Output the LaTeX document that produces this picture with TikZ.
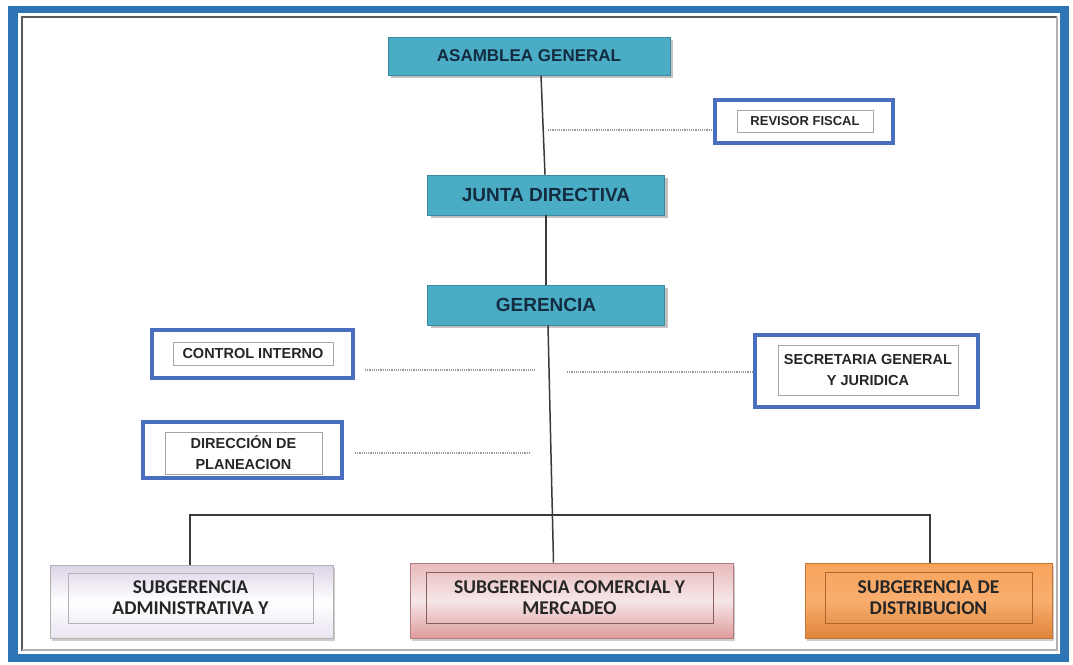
\documentclass[tikz,border=0pt]{standalone}
\usepackage{fontspec}
\setmainfont{Liberation Sans}
\newfontfamily\calib{Carlito}
\usetikzlibrary{shadows}
\definecolor{frameblue}{HTML}{2E75B6}
\definecolor{teal}{HTML}{4BACC6}
\definecolor{tealtext}{HTML}{132C40}
\definecolor{boxblue}{HTML}{4A6FC0}
\definecolor{conn}{HTML}{3A3A3A}
\definecolor{lav}{HTML}{DDD3E6}
\definecolor{pinkb}{HTML}{DE9C9E}
\definecolor{orangeb}{HTML}{F7933F}
\tikzset{
  tealbox/.style={fill=teal, draw=teal!80!black, line width=0.6pt,
    drop shadow={shadow xshift=3pt, shadow yshift=-3pt, fill=gray!60, opacity=0.8},
    text=tealtext, font=\bfseries, inner sep=0pt},
  bluebox/.style={draw=boxblue, line width=4pt, fill=white, inner sep=0pt},
  innerbox/.style={draw=gray!70, line width=0.7pt, fill=white, inner sep=0pt,
    align=center, font=\bfseries, text=black!85},
  subbox/.style={line width=0.8pt, inner sep=0pt,
    drop shadow={shadow xshift=2pt, shadow yshift=-3pt, fill=gray!55, opacity=0.7}},
  subinner/.style={draw=gray!60, line width=0.6pt, inner sep=0pt, align=center,
    font=\calib\fontsize{19.5}{21}\selectfont\bfseries, text=black!85},
  solidconn/.style={draw=conn, line width=1.5pt},
  dotconn/.style={draw=gray!80, line width=1.2pt, densely dotted}
}
\begin{document}
\begin{tikzpicture}[x=1pt,y=-1pt]
\useasboundingbox (0,0) rectangle (1073,664);
% frame
\fill[white] (0,0) rectangle (1073,664);
\fill[frameblue] (8,6) rectangle (1069,662);
\fill[white] (18,13) rectangle (1060,654);
\fill[white] (21,16) rectangle (1057,651);
\draw[gray!70!black, line width=2pt] (22,651) -- (22,17) -- (1057,17);
\draw[gray!60, line width=1.5pt] (22,650) -- (1057,650) -- (1057,17);

% upper teal nodes
\node[tealbox, minimum width=282pt, minimum height=38pt, font=\fontsize{17}{20}\selectfont\bfseries] (asamblea) at (529,56) {ASAMBLEA GENERAL};
\node[tealbox, minimum width=237pt, minimum height=40pt, font=\fontsize{19}{22}\selectfont\bfseries] (junta) at (546,195) {JUNTA DIRECTIVA};
\node[tealbox, minimum width=237pt, minimum height=40pt, font=\fontsize{19}{22}\selectfont\bfseries] (gerencia) at (546,305) {GERENCIA};

% blue boxes
\node[bluebox, minimum width=178pt, minimum height=43pt] (revisor) at (804,121.5) {};
\node[innerbox, minimum width=136pt, minimum height=22pt, font=\fontsize{13}{15}\selectfont\bfseries] (revisorT) at (805,121) {REVISOR FISCAL};

\node[bluebox, minimum width=201pt, minimum height=48pt] (control) at (252.5,354) {};
\node[innerbox, minimum width=160pt, minimum height=23pt, font=\fontsize{14.5}{17}\selectfont\bfseries] (controlT) at (253,353.5) {CONTROL INTERNO};

\node[bluebox, minimum width=199pt, minimum height=56pt] (direccion) at (242.5,450) {};
\node[innerbox, minimum width=157pt, minimum height=42pt, font=\fontsize{14.5}{21}\selectfont\bfseries] (direccionT) at (243.5,453) {DIRECCIÓN DE\\PLANEACION};

\node[bluebox, minimum width=223pt, minimum height=72pt] (secretaria) at (866.5,371) {};
\node[innerbox, minimum width=180pt, minimum height=50pt, font=\fontsize{14.5}{21}\selectfont\bfseries] (secretariaT) at (868,370) {SECRETARIA GENERAL\\Y JURIDICA};

% subgerencias
\node[subbox, draw=gray!60, top color=lav, bottom color=lav!60!white, middle color=white, minimum width=283pt, minimum height=73pt] (admin) at (191.5,601.5) {};
\node[subinner, minimum width=245pt, minimum height=50pt] (adminT) at (190.5,598) {SUBGERENCIA\\ADMINISTRATIVA Y};

\node[subbox, draw=pinkb!80!black, top color=pinkb!70!white, bottom color=pinkb, middle color=pinkb!25!white, minimum width=323pt, minimum height=75pt] (comercial) at (571.5,600.5) {};
\node[subinner, draw=pinkb!60!black, minimum width=287pt, minimum height=51pt] (comercialT) at (569.5,597.5) {SUBGERENCIA COMERCIAL Y\\MERCADEO};

\node[subbox, draw=orangeb!80!black, top color=orangeb!85!white, bottom color=orangeb!90!black, middle color=orangeb!75!white, minimum width=247pt, minimum height=75pt] (distrib) at (928.5,600.5) {};
\node[subinner, draw=orangeb!70!black, minimum width=207pt, minimum height=51pt] (distribT) at (928.5,597.5) {SUBGERENCIA DE\\DISTRIBUCION};

% solid connectors
\draw[solidconn] ([xshift=12pt]asamblea.south) -- ([xshift=-1pt]junta.north);
\draw[solidconn] (junta.south) -- (gerencia.north);
\draw[solidconn] ([xshift=2pt]gerencia.south) -- ([xshift=-18pt]comercial.north);
\coordinate (bus) at (0,515);
\draw[solidconn] ([xshift=-1.5pt]admin.north) -- ([xshift=-1.5pt]admin.north |- bus) -- ([xshift=1.5pt]distrib.north |- bus) -- ([xshift=1.5pt]distrib.north);

% dotted connectors
\coordinate (rv) at (548,130);
\draw[dotconn] (rv) -- (rv -| revisor.west);
\coordinate (ci1) at (365,370);
\coordinate (ci2) at (535,370);
\draw[dotconn] (ci1) -- (ci2);
\coordinate (sg1) at (567,372);
\draw[dotconn] (sg1) -- (sg1 -| secretaria.west);
\coordinate (dp1) at (355,453);
\coordinate (dp2) at (530,453);
\draw[dotconn] (dp1) -- (dp2);
\end{tikzpicture}
\end{document}
